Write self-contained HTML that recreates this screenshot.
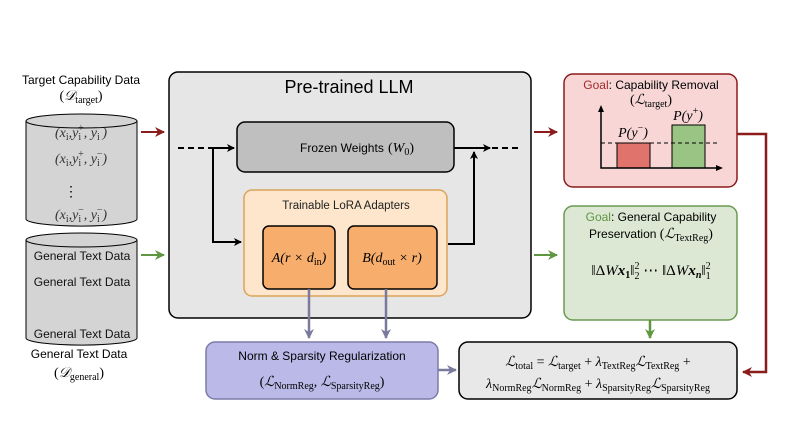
<!DOCTYPE html>
<html><head><meta charset="utf-8"><style>
body{margin:0;background:#fff}
svg{display:block;font-family:"Liberation Sans",sans-serif}
.m{font-family:"Liberation Serif",serif;font-style:italic}
.r{font-family:"Liberation Serif",serif}
.s{font-size:10px;font-style:normal;font-family:"Liberation Serif",serif}
</style></head><body>
<svg width="793" height="446" viewBox="0 0 793 446" xmlns="http://www.w3.org/2000/svg">
<defs>
<marker id="ak" markerWidth="8" markerHeight="8" refX="7" refY="4" orient="auto" markerUnits="userSpaceOnUse"><path d="M0,0 L8,4 L0,8 L2,4z" fill="#000"/></marker>
<marker id="ar" markerWidth="10" markerHeight="10" refX="9" refY="5" orient="auto" markerUnits="userSpaceOnUse"><path d="M0,0 L10,5 L0,10 L3,5z" fill="#8b1c1c"/></marker>
<marker id="ag" markerWidth="10" markerHeight="10" refX="9" refY="5" orient="auto" markerUnits="userSpaceOnUse"><path d="M0,0 L10,5 L0,10 L3,5z" fill="#5f9640"/></marker>
<marker id="ap" markerWidth="10" markerHeight="10" refX="9" refY="5" orient="auto" markerUnits="userSpaceOnUse"><path d="M0,0 L10,5 L0,10 L3,5z" fill="#7a7a9e"/></marker>
</defs>
<text x="81" y="84" font-size="12" text-anchor="middle">Target Capability Data</text>
<text x="81" y="100" font-size="14" text-anchor="middle" class="r">(<tspan class="m">𝒟</tspan><tspan class="s" dy="3">target</tspan><tspan dy="-3">)</tspan></text>
<path d="M26,121 L26,219 A55,7 0 0 0 137,219 L137,121" fill="#d4d4d4" stroke="#000"/>
<ellipse cx="81.5" cy="121" rx="55.5" ry="7" fill="#d4d4d4" stroke="#000"/>
<g font-size="14" text-anchor="middle" class="m" fill="#333">
<text x="81" y="137">(x<tspan class="s" dy="3">i</tspan><tspan dy="-3">,y</tspan><tspan class="s" dy="3">i</tspan><tspan class="s" dx="-3" dy="-9">+</tspan><tspan dy="6">, y</tspan><tspan class="s" dy="3">i</tspan><tspan class="s" dx="-3" dy="-9">−</tspan><tspan dy="6">)</tspan></text>
<text x="81" y="163">(x<tspan class="s" dy="3">i</tspan><tspan dy="-3">,y</tspan><tspan class="s" dy="3">i</tspan><tspan class="s" dx="-3" dy="-9">+</tspan><tspan dy="6">, y</tspan><tspan class="s" dy="3">i</tspan><tspan class="s" dx="-3" dy="-9">−</tspan><tspan dy="6">)</tspan></text>
<text x="81" y="219">(x<tspan class="s" dy="3">i</tspan><tspan dy="-3">,y</tspan><tspan class="s" dy="3">i</tspan><tspan class="s" dx="-3" dy="-9">−</tspan><tspan dy="6">, y</tspan><tspan class="s" dy="3">i</tspan><tspan class="s" dx="-3" dy="-9">−</tspan><tspan dy="6">)</tspan></text>
</g>
<text x="71" y="196" font-size="14" text-anchor="middle">⋮</text>
<path d="M26,240 L26,338 A55,7 0 0 0 137,338 L137,240" fill="#d4d4d4" stroke="#000"/>
<ellipse cx="81.5" cy="240" rx="55.5" ry="7" fill="#d4d4d4" stroke="#000"/>
<g font-size="12" text-anchor="middle" fill="#111">
<text x="82" y="260">General Text Data</text>
<text x="82" y="286">General Text Data</text>
<text x="82" y="338">General Text Data</text>
</g>
<text x="79" y="358" font-size="12" text-anchor="middle">General Text Data</text>
<text x="79" y="377" font-size="14" text-anchor="middle" class="r">(<tspan class="m">𝒟</tspan><tspan class="s" dy="3">general</tspan><tspan dy="-3">)</tspan></text>
<line x1="141" y1="132" x2="164" y2="132" stroke="#8b1c1c" stroke-width="2" marker-end="url(#ar)"/>
<line x1="141" y1="255" x2="164" y2="255" stroke="#5f9640" stroke-width="2" marker-end="url(#ag)"/>
<rect x="169" y="72" width="362" height="246" rx="9" fill="#e6e6e6" stroke="#000" stroke-width="1.5"/>
<text x="349" y="93" font-size="18" text-anchor="middle">Pre-trained LLM</text>
<rect x="237" y="122" width="217" height="50" rx="8" fill="#bfbfbf" stroke="#000" stroke-width="1.5"/>
<text x="300" y="152" font-size="12">Frozen Weights</text>
<text x="388" y="152" font-size="14" class="r">(<tspan class="m">W</tspan><tspan class="s" dy="3">0</tspan><tspan dy="-3">)</tspan></text>
<line x1="178" y1="148" x2="210" y2="148" stroke="#000" stroke-width="2" stroke-dasharray="6,4"/>
<line x1="210" y1="148" x2="234" y2="148" stroke="#000" stroke-width="2" marker-end="url(#ak)"/>
<polyline points="213,148 213,242 241,242" fill="none" stroke="#000" stroke-width="2" marker-end="url(#ak)"/>
<polyline points="448,244 474,244 474,152" fill="none" stroke="#000" stroke-width="2" marker-end="url(#ak)"/>
<line x1="454" y1="148" x2="490" y2="148" stroke="#000" stroke-width="2" marker-end="url(#ak)"/>
<line x1="492" y1="148" x2="520" y2="148" stroke="#000" stroke-width="2" stroke-dasharray="6,4"/>
<rect x="244" y="190" width="203" height="106" rx="8" fill="#fde6cc" stroke="#dca35a" stroke-width="1.5"/>
<text x="346" y="209" font-size="11.5" text-anchor="middle" fill="#222">Trainable LoRA Adapters</text>
<rect x="263" y="226" width="72" height="63" rx="6" fill="#f7ae6c" stroke="#000" stroke-width="1.5"/>
<rect x="348" y="226" width="89" height="63" rx="6" fill="#f7ae6c" stroke="#000" stroke-width="1.5"/>
<text x="299" y="262" font-size="14" text-anchor="middle" class="m">A<tspan class="r">(</tspan>r <tspan class="r">×</tspan> d<tspan class="s" dy="3">in</tspan><tspan class="r" dy="-3">)</tspan></text>
<text x="392" y="262" font-size="14" text-anchor="middle" class="m">B<tspan class="r">(</tspan>d<tspan class="s" dy="3">out</tspan><tspan class="r" dy="-3"> × </tspan>r<tspan class="r">)</tspan></text>
<line x1="309" y1="289" x2="309" y2="338" stroke="#7a7a9e" stroke-width="2.5" marker-end="url(#ap)"/>
<line x1="386" y1="289" x2="386" y2="338" stroke="#7a7a9e" stroke-width="2.5" marker-end="url(#ap)"/>
<rect x="206" y="342" width="232" height="57" rx="9" fill="#bbb9e8" stroke="#7d7ba8" stroke-width="1.5"/>
<text x="322" y="360" font-size="12" text-anchor="middle">Norm &amp; Sparsity Regularization</text>
<text x="322" y="386" font-size="14" text-anchor="middle" class="r">(<tspan class="m">ℒ</tspan><tspan class="s" dy="3">NormReg</tspan><tspan dy="-3">, </tspan><tspan class="m">ℒ</tspan><tspan class="s" dy="3">SparsityReg</tspan><tspan dy="-3">)</tspan></text>
<line x1="438" y1="370" x2="456" y2="370" stroke="#7a7a9e" stroke-width="2.5" marker-end="url(#ap)"/>
<rect x="459" y="342" width="278" height="57" rx="9" fill="#e8e8e8" stroke="#000" stroke-width="1.5"/>
<text x="598" y="366" font-size="14" text-anchor="middle" class="r"><tspan class="m">ℒ</tspan><tspan class="s" dy="3">total</tspan><tspan dy="-3"> = </tspan><tspan class="m">ℒ</tspan><tspan class="s" dy="3">target</tspan><tspan dy="-3"> + </tspan><tspan class="m">λ</tspan><tspan class="s" dy="3">TextReg</tspan><tspan class="m" dy="-3">ℒ</tspan><tspan class="s" dy="3">TextReg</tspan><tspan dy="-3"> +</tspan></text>
<text x="598" y="388" font-size="14" text-anchor="middle" class="r"><tspan class="m">λ</tspan><tspan class="s" dy="3">NormReg</tspan><tspan class="m" dy="-3">ℒ</tspan><tspan class="s" dy="3">NormReg</tspan><tspan dy="-3"> + </tspan><tspan class="m">λ</tspan><tspan class="s" dy="3">SparsityReg</tspan><tspan class="m" dy="-3">ℒ</tspan><tspan class="s" dy="3">SparsityReg</tspan></text>
<line x1="534" y1="132" x2="557" y2="132" stroke="#8b1c1c" stroke-width="2" marker-end="url(#ar)"/>
<line x1="534" y1="255" x2="557" y2="255" stroke="#5f9640" stroke-width="2" marker-end="url(#ag)"/>
<rect x="564" y="74" width="173" height="113" rx="9" fill="#f8d6d6" stroke="#8b1c1c" stroke-width="1.5"/>
<text x="651" y="89" font-size="12" text-anchor="middle"><tspan fill="#a52a2a">Goal</tspan>: Capability Removal</text>
<text x="651" y="104" font-size="14" text-anchor="middle" class="r">(<tspan class="m">ℒ</tspan><tspan class="s" dy="3">target</tspan><tspan dy="-3">)</tspan></text>
<rect x="617" y="143" width="33" height="25" fill="#e0736b" stroke="#000"/>
<rect x="672" y="125" width="33" height="43" fill="#9ac483" stroke="#000"/>
<line x1="601" y1="143" x2="718" y2="143" stroke="#000" stroke-dasharray="4,3"/>
<polyline points="601,108 601,168 720,168" fill="none" stroke="#000" stroke-width="1.5"/>
<path d="M598,112 L601,105 L604,112z M716,165 L723,168 L716,171z"/>
<text x="633" y="137" font-size="14" text-anchor="middle" class="m">P<tspan class="r">(</tspan>y<tspan class="s" dy="-6">−</tspan><tspan dy="6" class="r">)</tspan></text>
<text x="688" y="120" font-size="14" text-anchor="middle" class="m">P<tspan class="r">(</tspan>y<tspan class="s" dy="-6">+</tspan><tspan dy="6" class="r">)</tspan></text>
<polyline points="737,134 766,134 766,372 743,372" fill="none" stroke="#8b1c1c" stroke-width="2.5" marker-end="url(#ar)"/>
<rect x="564" y="206" width="173" height="114" rx="9" fill="#dce8d4" stroke="#6a9a50" stroke-width="1.5"/>
<text x="651" y="221" font-size="12" text-anchor="middle"><tspan fill="#5f9640">Goal</tspan>: General Capability</text>
<text x="651" y="238" font-size="12" text-anchor="middle">Preservation <tspan class="r" font-size="14">(<tspan class="m">ℒ</tspan><tspan class="s" dy="3">TextReg</tspan><tspan dy="-3">)</tspan></tspan></text>
<text x="651" y="275" font-size="15" text-anchor="middle" class="r">‖Δ<tspan class="m">W</tspan><tspan font-weight="bold" font-style="italic">x</tspan><tspan font-size="10" font-weight="bold" dy="3">1</tspan><tspan dy="-3">‖</tspan><tspan class="s" dy="-6">2</tspan><tspan class="s" dx="-5" dy="10">2</tspan><tspan dy="-4"> ⋯ ‖Δ</tspan><tspan class="m">W</tspan><tspan font-weight="bold" font-style="italic">x</tspan><tspan font-size="10" font-weight="bold" font-style="italic" dy="3">n</tspan><tspan dy="-3">‖</tspan><tspan class="s" dy="-6">2</tspan><tspan class="s" dx="-5" dy="10">1</tspan></text>
<line x1="650" y1="320" x2="650" y2="338" stroke="#5f9640" stroke-width="2.5" marker-end="url(#ag)"/>
</svg>
</body></html>
